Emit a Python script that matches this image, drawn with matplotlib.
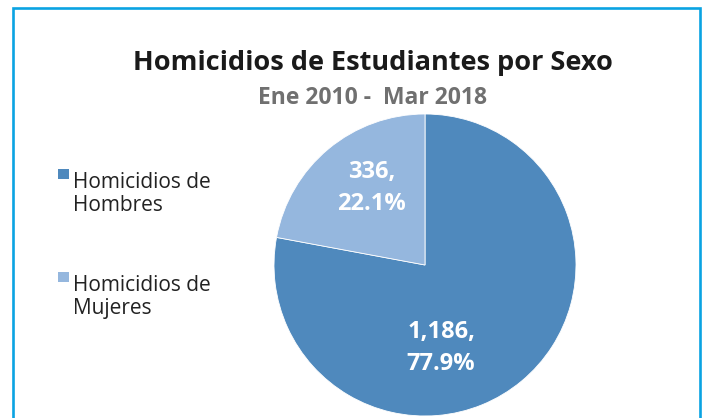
import matplotlib
matplotlib.use("Agg")
import matplotlib.pyplot as plt
from matplotlib.patches import Rectangle
import numpy as np

categories = ["Homicidios de\nHombres", "Homicidios de\nMujeres"]
values = [1186, 336]
value_labels = ["1,186,\n77.9%", "336,\n22.1%"]
colors = ["#4f89bd", "#95b7de"]

title = "Homicidios de Estudiantes por Sexo"
subtitle = "Ene 2010 -  Mar 2018"

W, H = 704, 418
fig = plt.figure(figsize=(W / 100, H / 100), dpi=100)
fig.patch.set_facecolor("white")

# outer frame (bottom edge falls outside the picture)
fig.add_artist(Rectangle((13 / W, -0.05), (700 - 13) / W, 1.05 - 8 / H,
                         transform=fig.transFigure, fill=False,
                         edgecolor="#0aa3e2", linewidth=1.9))

fig.text(372.5 / W, 1 - 63 / H, title, ha="center", va="center",
         fontsize=19.5, fontweight="bold", color="#1a1a1a", family="Open Sans")
fig.text(372.5 / W, 1 - 98 / H, subtitle, ha="center", va="center",
         fontsize=16.5, fontweight="bold", color="#707070", family="Open Sans")

# pie
cx, cy, r = 425, 265, 151
ax = fig.add_axes([(cx - r) / W, 1 - (cy + r) / H, 2 * r / W, 2 * r / H])
wedges, _ = ax.pie(values, colors=colors, startangle=90, counterclock=False,
                   radius=1, wedgeprops=dict(edgecolor="white", linewidth=0.6))
ax.set_xlim(-1, 1)
ax.set_ylim(-1, 1)
ax.set_aspect("equal")
ax.axis("off")

# label placement (angle in degrees, fraction of radius)
label_pos = [(-79, 0.56), (125, 0.62)]
for txt, (ang, fr) in zip(value_labels, label_pos):
    a = np.deg2rad(ang)
    ax.text(fr * np.cos(a), fr * np.sin(a), txt, ha="center", va="center",
            fontsize=17, fontweight="bold", color="white", family="Open Sans",
            linespacing=1.45)

# legend drawn by hand: square at the first text line
legend_y = [169, 272]
for lab, col, y in zip(categories, colors, legend_y):
    fig.add_artist(Rectangle((58 / W, 1 - (y + 10) / H), 11 / W, 10 / H,
                             transform=fig.transFigure, facecolor=col,
                             edgecolor="none"))
    fig.text(73 / W, 1 - (y + 3) / H, lab, ha="left", va="top",
             fontsize=15, color="#222222", family="Open Sans",
             linespacing=1.12)

fig.savefig("out.png", dpi=100)
